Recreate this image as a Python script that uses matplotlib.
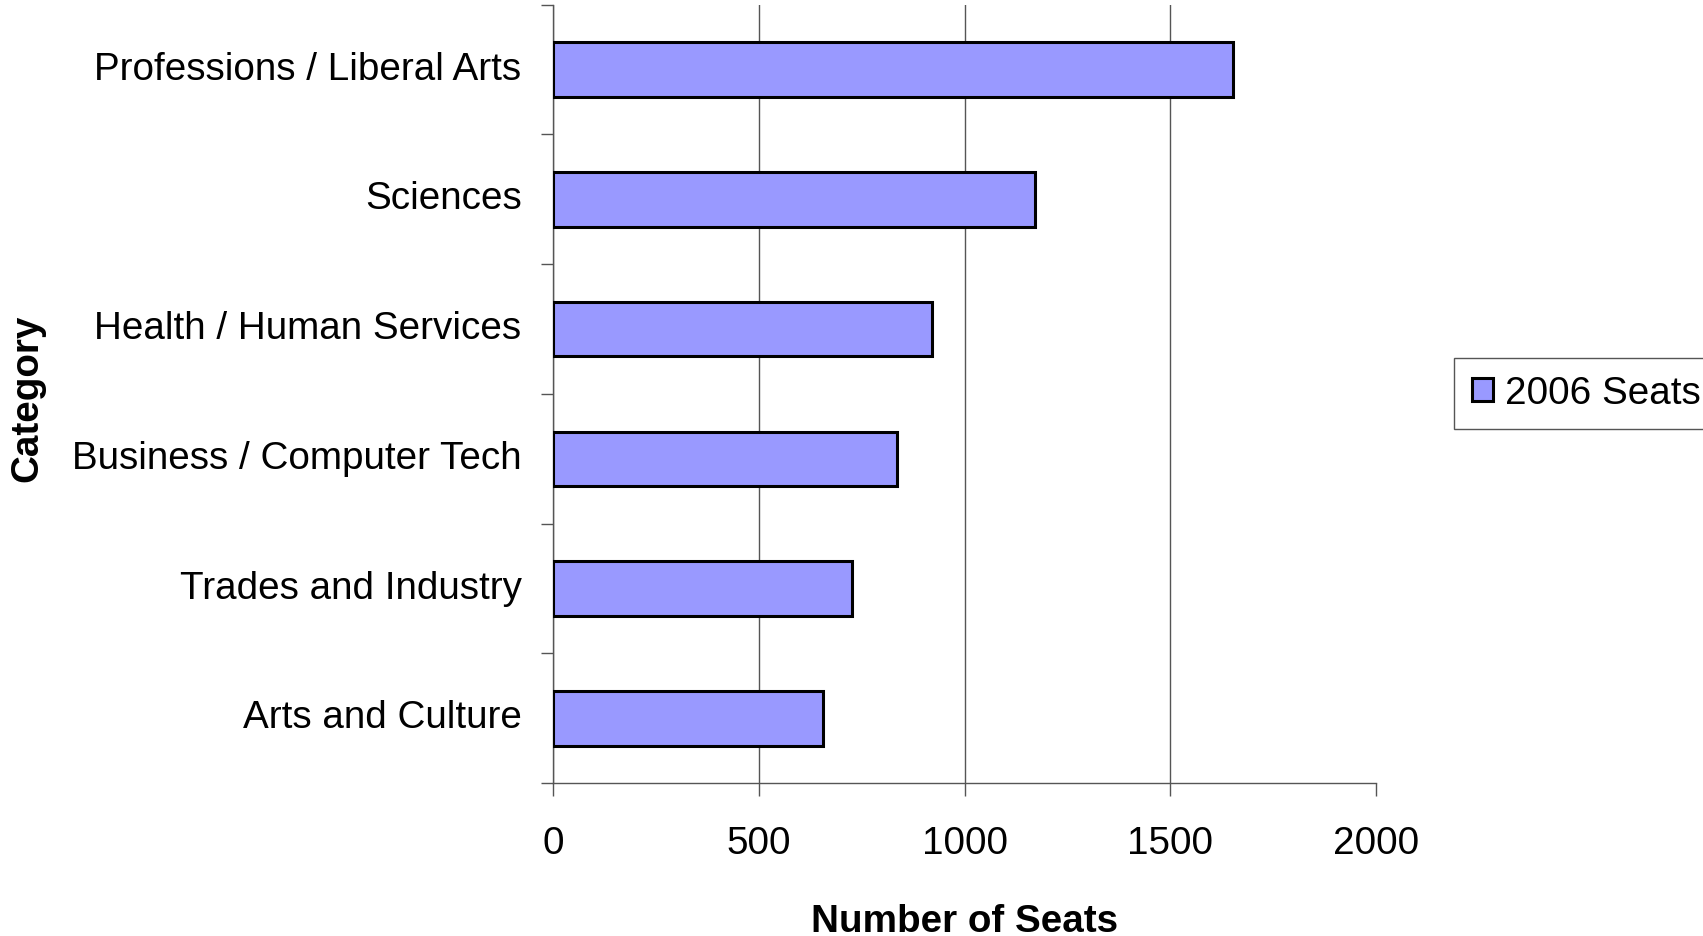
import matplotlib
matplotlib.use("Agg")
import matplotlib.pyplot as plt
import matplotlib.transforms as mtransforms
import numpy as np

categories = ["Professions / Liberal Arts", "Sciences", "Health / Human Services",
              "Business / Computer Tech", "Trades and Industry", "Arts and Culture"]
seats_2006 = [1653, 1172, 920, 835, 727, 655]
x_ticks = [0, 500, 1000, 1500, 2000]

plt.rcParams['font.family'] = ['Liberation Sans', 'DejaVu Sans']

fig = plt.figure(figsize=(17.03, 9.37), dpi=100)
ax = fig.add_axes([0.325, 0.163, 0.483, 0.831])

pos = np.arange(len(categories))[::-1]
ax.barh(pos, seats_2006, height=0.42, color='#9999ff', edgecolor='black',
        linewidth=2.2, label='2006 Seats', zorder=3)

ax.set_xlim(0, 2000)
ax.set_ylim(-0.5, len(categories) - 0.5)
ax.set_xticks(x_ticks)
ax.set_xticklabels([str(t) for t in x_ticks], fontsize=27.8)
ax.set_yticks(pos)
ax.set_yticklabels(categories, fontsize=27.8)
ax.set_yticks(np.arange(-0.5, len(categories)), minor=True)
ax.tick_params(axis='y', which='major', length=0, pad=23)
ax.tick_params(axis='y', which='minor', length=9, width=1, color='#555555')
ax.tick_params(axis='x', length=9, width=1, color='#555555', pad=21)

# nudge category labels up a little, like the original
shift = mtransforms.ScaledTranslation(0, 0.05, fig.dpi_scale_trans)
for lbl in ax.get_yticklabels():
    lbl.set_transform(lbl.get_transform() + shift)

ax.grid(axis='x', color='#555555', linewidth=1, zorder=0)
ax.xaxis.get_gridlines()[-1].set_visible(False)
for s in ['top', 'right']:
    ax.spines[s].set_visible(False)
for s in ['left', 'bottom']:
    ax.spines[s].set_color('#555555')
    ax.spines[s].set_linewidth(1)

ax.set_xlabel("Number of Seats", fontsize=27.8, fontweight='bold', labelpad=30)
fig.text(0.016, 0.575, "Category", rotation=90, fontsize=27.8, fontweight='bold',
         ha='center', va='center')

leg = ax.legend(loc='center left', bbox_to_anchor=(0.854, 0.579),
                bbox_transform=fig.transFigure, borderaxespad=0, fontsize=27.8,
                fancybox=False, framealpha=1, edgecolor='#555555',
                handlelength=0.55, handleheight=0.55, handletextpad=0.3,
                borderpad=0.45)
leg.get_frame().set_linewidth(1)

fig.savefig("out.png", dpi=100)
